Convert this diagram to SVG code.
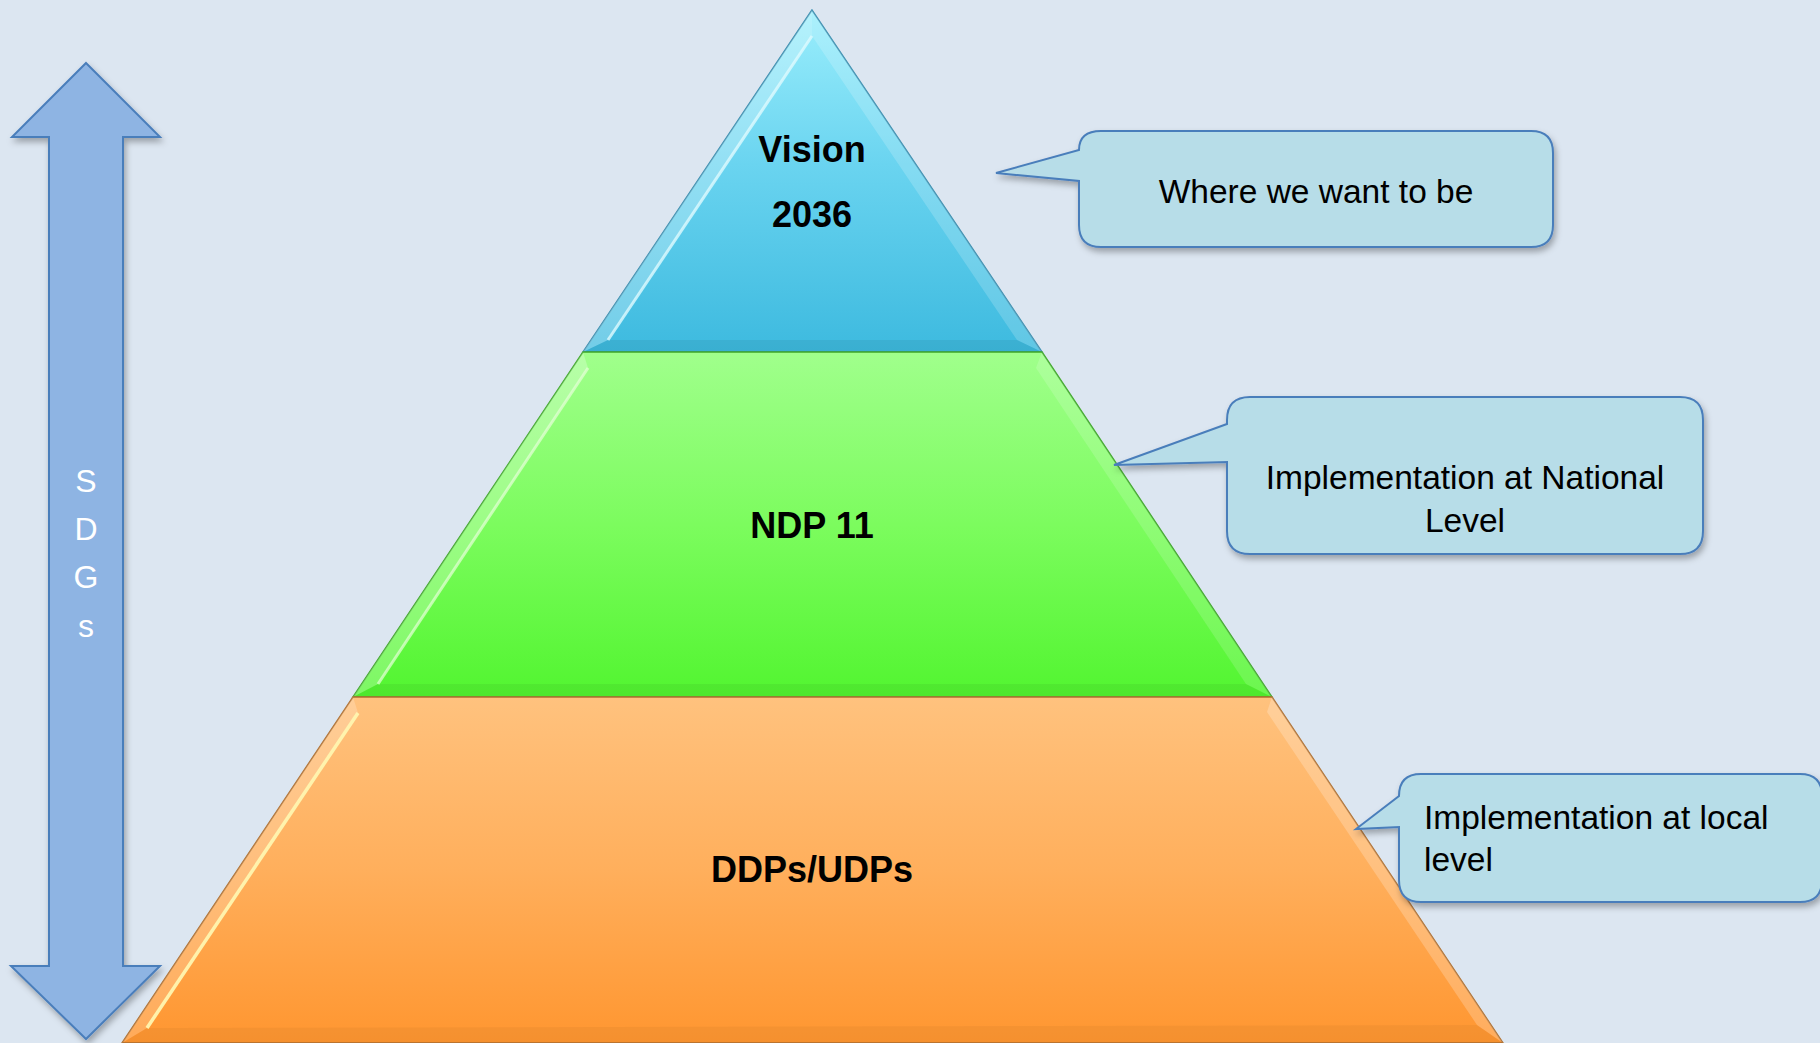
<svg xmlns="http://www.w3.org/2000/svg" width="1820" height="1043" viewBox="0 0 1820 1043">
<defs>
  <linearGradient id="gTop" x1="0" y1="0" x2="0" y2="1">
    <stop offset="0" stop-color="#9AEEFC"/>
    <stop offset="0.45" stop-color="#6AD4F0"/>
    <stop offset="1" stop-color="#3DBADF"/>
  </linearGradient>
  <linearGradient id="gMid" x1="0" y1="0" x2="0" y2="1">
    <stop offset="0" stop-color="#A0FF8C"/>
    <stop offset="0.5" stop-color="#7CFC5E"/>
    <stop offset="1" stop-color="#52F530"/>
  </linearGradient>
  <linearGradient id="gBot" x1="0" y1="0" x2="0" y2="1">
    <stop offset="0" stop-color="#FFC27E"/>
    <stop offset="0.5" stop-color="#FFAF5C"/>
    <stop offset="1" stop-color="#FF9630"/>
  </linearGradient>
  <filter id="shadow" x="-10%" y="-10%" width="125%" height="125%">
    <feDropShadow dx="2" dy="4" stdDeviation="3" flood-color="#000" flood-opacity="0.3"/>
  </filter>
</defs>
<style>
  .callout { fill: #B7DDE8; stroke: #4A7EBB; stroke-width: 2; filter: url(#shadow); }
  .ctext { font-family: "Liberation Sans", Arial, sans-serif; font-size: 33.5px; fill: #000; }
  .ptext { font-family: "Liberation Sans", Arial, sans-serif; font-weight: bold; font-size: 36px; fill: #000; text-anchor: middle; }
  .arrow { fill: #8EB4E3; stroke: #4A7EBB; stroke-width: 2; filter: url(#shadow); }
  .sdg { font-family: "Liberation Sans", Arial, sans-serif; font-size: 32px; fill: #FFFFFF; text-anchor: middle; }
  .hl { fill: #FFFFFF; }
  .dk { fill: #000000; }
</style>
<rect x="0" y="0" width="1820" height="1043" fill="#DCE6F1"/>

<g id="sdgs-arrow">
  <path class="arrow" d="M86,63 L160,137 L123,137 L123,966 L160,966 L86,1039 L11,966 L49,966 L49,137 L12,137 Z"/>
  <text class="sdg" x="86" y="492">S</text>
  <text class="sdg" x="86" y="540">D</text>
  <text class="sdg" x="86" y="588">G</text>
  <text class="sdg" x="86" y="637">s</text>
</g>

<g id="tier-vision">
  <polygon points="812,10 583,352 1042,352" fill="url(#gTop)" stroke="#3A8FB0" stroke-width="1.5"/>
  <polygon class="hl" opacity="0.28" points="812,10 583,352 608,340 812,36"/>
  <polygon class="hl" opacity="0.18" points="812,10 1042,352 1017,340 812,36"/>
  <polygon class="dk" opacity="0.06" points="583,352 1042,352 1017,340 608,340"/>
  <line x1="812" y1="36" x2="608" y2="340" stroke="#DFFBFF" stroke-width="3" opacity="0.8"/>
  <text class="ptext" x="812" y="162">Vision</text>
  <text class="ptext" x="812" y="227">2036</text>
</g>

<g id="tier-ndp">
  <polygon points="583,352 1042,352 1272,697 353,697" fill="url(#gMid)" stroke="#3FA82A" stroke-width="1.5"/>
  <polygon class="hl" opacity="0.25" points="583,352 353,697 378,684 588,368"/>
  <polygon class="hl" opacity="0.15" points="1042,352 1272,697 1246,684 1036,368"/>
  <polygon class="dk" opacity="0.05" points="353,697 1272,697 1246,684 378,684"/>
  <line x1="588" y1="368" x2="378" y2="684" stroke="#E6FFD8" stroke-width="3" opacity="0.7"/>
  <text class="ptext" x="812" y="538">NDP 11</text>
</g>

<g id="tier-ddps">
  <polygon points="353,697 1272,697 1503,1043 122,1043" fill="url(#gBot)" stroke="#B07030" stroke-width="1.5"/>
  <polygon class="hl" opacity="0.2" points="353,697 122,1043 147,1028 358,713"/>
  <polygon class="hl" opacity="0.22" points="1272,697 1503,1043 1477,1025 1267,712"/>
  <polygon class="dk" opacity="0.04" points="122,1043 1503,1043 1477,1025 147,1028"/>
  <line x1="358" y1="713" x2="147" y2="1028" stroke="#FFF6B0" stroke-width="3.5" opacity="0.95"/>
  <text class="ptext" x="812" y="882">DDPs/UDPs</text>
</g>

<g id="callout-vision">
  <path class="callout" d="M1101,131 H1531 Q1553,131 1553,153 V225 Q1553,247 1531,247 H1101 Q1079,247 1079,225 V181 L996,173 L1079,150 Q1079,131 1101,131 Z"/>
  <text class="ctext" x="1316" y="203" text-anchor="middle">Where we want to be</text>
</g>

<g id="callout-ndp">
  <path class="callout" d="M1250,397 H1680 Q1703,397 1703,420 V531 Q1703,554 1680,554 H1250 Q1227,554 1227,531 V462 L1114,465 L1227,424 V420 Q1227,397 1250,397 Z"/>
  <text class="ctext" x="1465" y="489" text-anchor="middle">Implementation at National</text>
  <text class="ctext" x="1465" y="532" text-anchor="middle">Level</text>
</g>

<g id="callout-ddps">
  <path class="callout" d="M1421,774 H1800 Q1822,774 1822,796 V880 Q1822,902 1800,902 H1421 Q1399,902 1399,880 V827 L1356,829 L1399,796 Q1399,774 1421,774 Z"/>
  <text class="ctext" x="1424" y="829">Implementation at local</text>
  <text class="ctext" x="1424" y="871">level</text>
</g>

<g id="connectors"></g>
</svg>
